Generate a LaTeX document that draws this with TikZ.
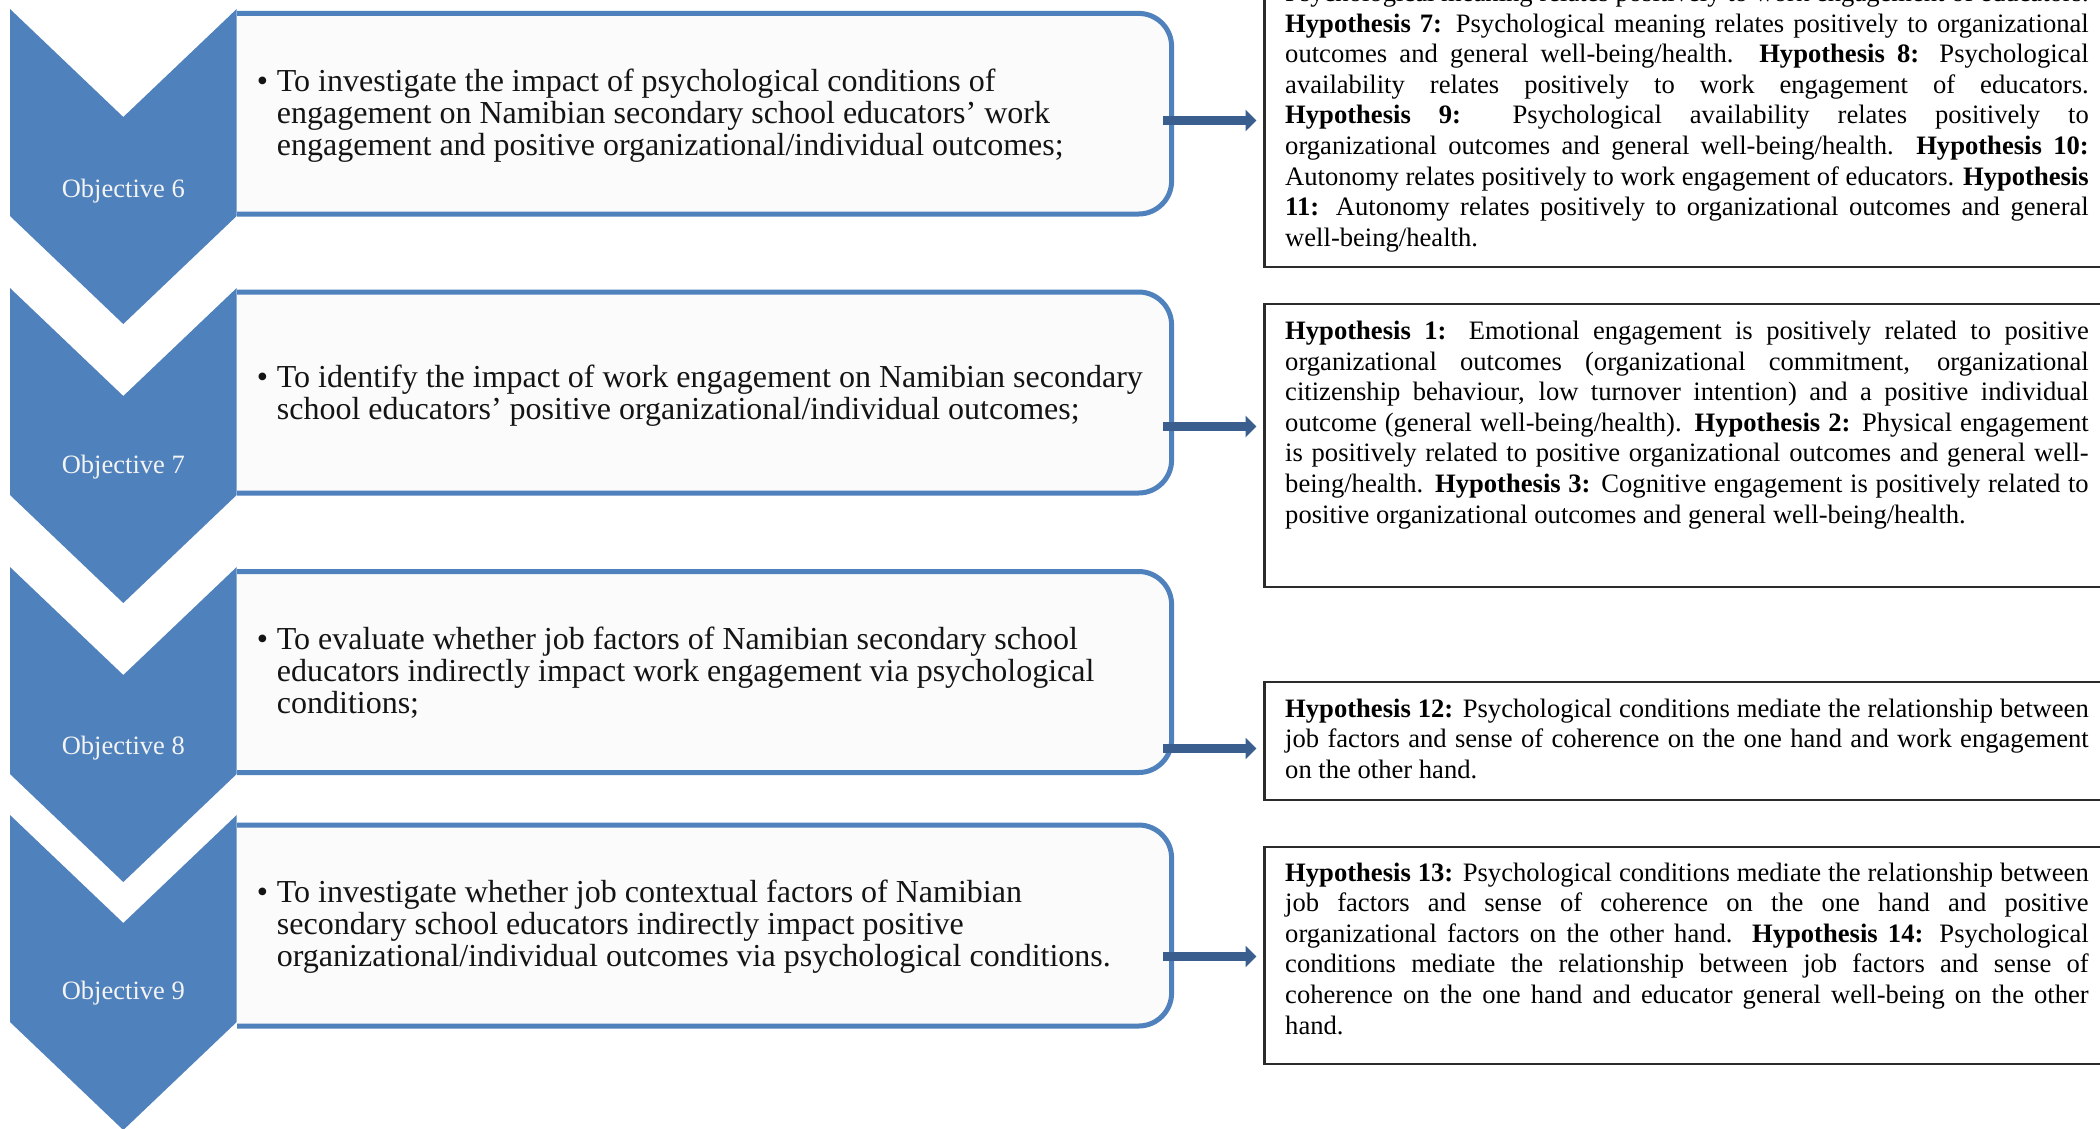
\documentclass[tikz,border=0pt]{standalone}
\usepackage{fontspec}
\setmainfont{Liberation Serif}
\usetikzlibrary{arrows.meta}

\definecolor{chevblue}{HTML}{4F81BD}
\definecolor{arrowblue}{HTML}{3A5F8E}
\definecolor{boxfill}{HTML}{FBFBFB}
\definecolor{framegray}{HTML}{2B2B2B}
\definecolor{labelwhite}{HTML}{F4F4F4}

\newcommand\hypfont{\fontsize{26.6pt}{30.6pt}\selectfont}
\newcommand\objfont{\fontsize{32pt}{32.1pt}\selectfont}
\newcommand\labfont{\fontsize{26.5pt}{28pt}\selectfont}
\newlength\hypw \setlength\hypw{803.5pt}
% one fully justified line of a hypothesis paragraph
\newcommand\jline[1]{\makebox[\hypw][s]{#1}}
\newcommand\hyp[1]{\textbf{Hypothesis #1:}}

\begin{document}
\begin{tikzpicture}[x=1pt,y=-1pt,
  chev/.style={fill=chevblue},
  objarea/.style={shape=rectangle, inner sep=0pt, outer sep=0pt, minimum width=934.6pt},
  objframe/.style={draw=chevblue, line width=5pt, fill=boxfill, rounded corners=33pt},
  hypframe/.style={draw=framegray, line width=2.2pt, fill=white, anchor=north west,
    inner sep=0pt, outer sep=0pt, minimum width=860pt},
  hyptext/.style={anchor=base west, inner sep=0pt, font=\hypfont},
  objtext/.style={anchor=base west, inner sep=0pt, font=\objfont, text=black!92},
  objlabel/.style={anchor=base, inner sep=0pt, font=\labfont, text=labelwhite},
  link/.style={draw=arrowblue, line width=9pt, -{Triangle[width=21pt,length=11pt]},
    shorten <=-8.6pt, shorten >=8pt}
]
\useasboundingbox (0,0) rectangle (2100,1128);
\clip (0,0) rectangle (2100,1128);
\fill[white] (0,0) rectangle (2100,1128);

% ---------- objective frames (left side hidden under the chevrons) ----------
\node[objarea, minimum height=200.6pt] (o6) at (704.3,113.7) {};
\node[objarea, minimum height=201pt]   (o7) at (704.3,392.5) {};
\node[objarea, minimum height=201pt]   (o8) at (704.3,672) {};
\node[objarea, minimum height=201pt]   (o9) at (704.3,925.5) {};
\foreach \o in {o6,o7,o8,o9}
  \draw[objframe] (\o.north west) -- (\o.north east) -- (\o.south east) -- (\o.south west);

% ---------- chevrons ----------
\foreach \t in {9,288,567,815}
  \fill[chev] (10,\t) -- (123.3,\t+108) -- (236.7,\t) -- (236.7,\t+207)
              -- (123.3,\t+315) -- (10,\t+207) -- cycle;

\node[objlabel] (l6) at (123.3,197) {Objective 6};
\node[objlabel] (l7) at (123.3,473.5) {Objective 7};
\node[objlabel] (l8) at (123.3,754) {Objective 8};
\node[objlabel] (l9) at (123.3,999) {Objective 9};

% ---------- objective statements ----------
\node[objtext] (t6) at (256.7,91.2) {\makebox[20pt][l]{\textbullet}\parbox[t]{900pt}{\raggedright
  To investigate the impact of psychological conditions of\\
  engagement on Namibian secondary school educators’ work\\
  engagement and positive organizational/individual outcomes;}};
\node[objtext] (t7) at (256.7,387.2) {\makebox[20pt][l]{\textbullet}\parbox[t]{900pt}{\raggedright
  To identify the impact of work engagement on Namibian secondary\\
  school educators’ positive organizational/individual outcomes;}};
\node[objtext] (t8) at (256.7,649.7) {\makebox[20pt][l]{\textbullet}\parbox[t]{900pt}{\raggedright
  To evaluate whether job factors of Namibian secondary school\\
  educators indirectly impact work engagement via psychological\\
  conditions;}};
\node[objtext] (t9) at (256.7,902.2) {\makebox[20pt][l]{\textbullet}\parbox[t]{900pt}{\raggedright
  To investigate whether job contextual factors of Namibian\\
  secondary school educators indirectly impact positive\\
  organizational/individual outcomes via psychological conditions.}};

% ---------- hypothesis frames ----------
\node[hypframe, minimum height=367pt]   (h1) at (1264.5,-100) {};
\node[hypframe, minimum height=283pt]   (h2) at (1264.5,304) {};
\node[hypframe, minimum height=118pt]   (h3) at (1264.5,682) {};
\node[hypframe, minimum height=217.3pt] (h4) at (1264.5,846.7) {};

\node[hyptext] (h1t) at (1285,1.4) {\parbox[t]{\hypw}{
  \jline{Psychological meaning relates positively to work engagement of educators.}\\
  \jline{\hyp{7} Psychological meaning relates positively to organizational}\\
  \jline{outcomes and general well-being/health. \hyp{8} Psychological}\\
  \jline{availability relates positively to work engagement of educators.}\\
  \jline{\hyp{9} Psychological availability relates positively to}\\
  \jline{organizational outcomes and general well-being/health.\ \ \hyp{10}}\\
  \jline{Autonomy relates positively to work engagement of educators. \textbf{Hypothesis}}\\
  \jline{\textbf{11:} Autonomy relates positively to organizational outcomes and general}\\
  well-being/health.}};

\node[hyptext] (h2t) at (1285,339.5) {\parbox[t]{\hypw}{
  \jline{\hyp{1} Emotional engagement is positively related to positive}\\
  \jline{organizational outcomes (organizational commitment, organizational}\\
  \jline{citizenship behaviour, low turnover intention) and a positive individual}\\
  \jline{outcome (general well-being/health). \hyp{2} Physical engagement}\\
  \jline{is positively related to positive organizational outcomes and general well-}\\
  \jline{being/health. \hyp{3} Cognitive engagement is positively related to}\\
  positive organizational outcomes and general well-being/health.}};

\node[hyptext] (h3t) at (1285,717) {\parbox[t]{\hypw}{
  \jline{\hyp{12} Psychological conditions mediate the relationship between}\\
  \jline{job factors and sense of coherence on the one hand and work engagement}\\
  on the other hand.}};

\node[hyptext] (h4t) at (1285,881) {\parbox[t]{\hypw}{
  \jline{\hyp{13} Psychological conditions mediate the relationship between}\\
  \jline{job factors and sense of coherence on the one hand and positive}\\
  \jline{organizational factors on the other hand. \hyp{14} Psychological}\\
  \jline{conditions mediate the relationship between job factors and sense of}\\
  \jline{coherence on the one hand and educator general well-being on the other}\\
  hand.}};

% ---------- arrows from objectives to hypotheses ----------
\coordinate (a6) at (0,120.5);
\coordinate (a7) at (0,426.5);
\coordinate (a8) at (0,748.5);
\coordinate (a9) at (0,956.5);
\draw[link] (o6.east |- a6) -- (h1.west |- a6);
\draw[link] (o7.east |- a7) -- (h2.west |- a7);
\draw[link] (o8.east |- a8) -- (h3.west |- a8);
\draw[link] (o9.east |- a9) -- (h4.west |- a9);
\end{tikzpicture}
\end{document}
